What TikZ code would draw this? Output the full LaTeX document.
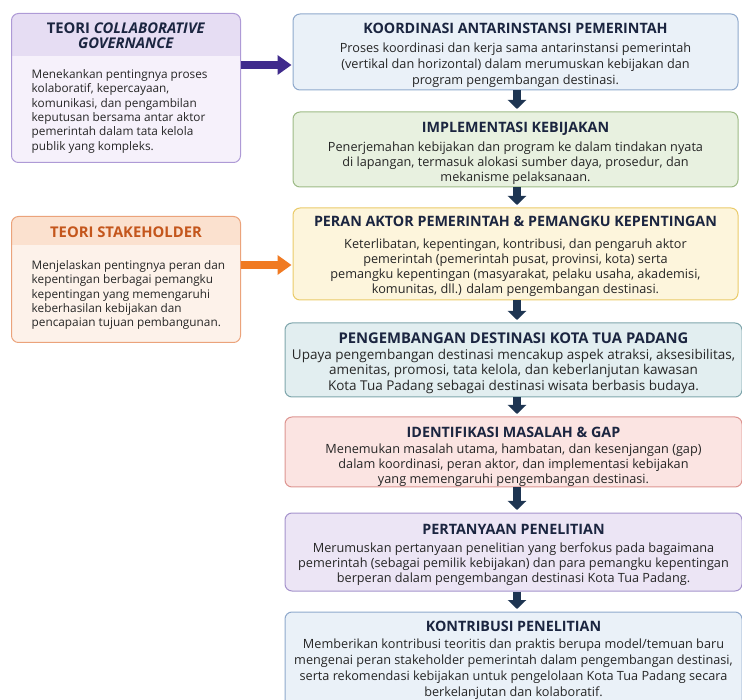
\documentclass[tikz,border=0pt]{standalone}
\usepackage{fontspec}
\setmainfont{Open Sans}
\usepackage{xcolor}
\usepackage{tikz}
\usetikzlibrary{positioning}
\usetikzlibrary{arrows.meta}
\usetikzlibrary{calc}

\definecolor{navy}{HTML}{1E3552}
\definecolor{ttlnavy}{HTML}{1B2540}
\definecolor{txtdark}{HTML}{262626}
\definecolor{apurple}{HTML}{3F2A8C}
\definecolor{aorange}{HTML}{F07A22}
\definecolor{kblue}{HTML}{EAF1F8}   \definecolor{kblueline}{HTML}{8FA9CC}
\definecolor{kgreen}{HTML}{E8F1E0}  \definecolor{kgreenline}{HTML}{9DBB86}
\definecolor{kyellow}{HTML}{FDF5DC} \definecolor{kyellowline}{HTML}{EACB6A}
\definecolor{kteal}{HTML}{E2EEF0}   \definecolor{ktealline}{HTML}{7FA6AC}
\definecolor{kred}{HTML}{FBE4E2}    \definecolor{kredline}{HTML}{DD9591}
\definecolor{kpurple}{HTML}{ECE5F5} \definecolor{kpurpleline}{HTML}{A593CC}
\definecolor{tpurple}{HTML}{F6F1FB} \definecolor{tpurplehead}{HTML}{E6DDF3} \definecolor{tpurpleline}{HTML}{AE9AD6}
\definecolor{torange}{HTML}{FDF2EA} \definecolor{toranghead}{HTML}{FBE1CF} \definecolor{torangeline}{HTML}{EBA37B}
\definecolor{torangetitle}{HTML}{C4561C}

\tikzset{
  stepbox/.style={draw=#1line, fill=#1, rounded corners=7pt, line width=1pt,
    minimum width=445pt, inner sep=0pt},
  ktitle/.style={font=\bfseries\fontsize{14.3}{17}\selectfont, text=ttlnavy, inner sep=0pt},
  kbody/.style={align=center, font=\fontsize{12.7}{16}\selectfont, text=txtdark, inner sep=0pt},
  tbody/.style={align=left, font=\fontsize{11.8}{14.3}\selectfont, text=txtdark, inner sep=0pt, anchor=north west},
  downarrow/.style={navy, line width=8pt, -{Triangle[width=18pt,length=9pt]}, shorten >=2.5pt},
  sidearrow/.style={#1, line width=8pt, -{Triangle[width=19pt,length=14pt]}, shorten >=1pt}
}

\begin{document}
\begin{tikzpicture}[x=1pt, y=-1pt]
 \useasboundingbox (0,0) rectangle (742,700);

 % main column
 \foreach \i/\col/\xc/\w/\yc/\h in {1/kblue/515.5/445/52/76, 2/kgreen/515.5/445/149.5/75,
     3/kyellow/515.5/445/254/92, 4/kteal/513.5/457/360/74, 5/kred/513.5/457/452/70,
     6/kpurple/513.5/457/552/78, 7/kblue/513.5/457/662/100} {
   \node[stepbox=\col, minimum width=\w pt, minimum height=\h pt] (K\i) at (\xc,\yc) {};
 }
 \coordinate (axis) at (517,0);

 \foreach \i/\j in {1/2, 2/3, 3/4, 4/5, 5/6, 6/7} {
   \draw[downarrow] (axis |- K\i.south) -- (axis |- K\j.north);
 }

 \node[ktitle, below=9pt of K1.north] (K1t) {KOORDINASI ANTARINSTANSI PEMERINTAH};
 \node[kbody, below=9pt of K1t] (K1b) {Proses koordinasi dan kerja sama antarinstansi pemerintah\\
   (vertikal dan horizontal) dalam merumuskan kebijakan dan\\
   program pengembangan destinasi.};

 \node[ktitle, below=10pt of K2.north] (K2t) {IMPLEMENTASI KEBIJAKAN};
 \node[kbody, below=6pt of K2t, font=\fontsize{12.7}{15.3}\selectfont] (K2b) {Penerjemahan kebijakan dan program ke dalam tindakan nyata\\
   di lapangan, termasuk alokasi sumber daya, prosedur, dan\\
   mekanisme pelaksanaan.};

 \node[ktitle, below=8pt of K3.north] (K3t) {PERAN AKTOR PEMERINTAH \& PEMANGKU KEPENTINGAN};
 \node[kbody, below=12pt of K3t, font=\fontsize{12.7}{15}\selectfont] (K3b) {Keterlibatan, kepentingan, kontribusi, dan pengaruh aktor\\
   pemerintah (pemerintah pusat, provinsi, kota) serta\\
   pemangku kepentingan (masyarakat, pelaku usaha, akademisi,\\
   komunitas, dll.) dalam pengembangan destinasi.};

 \node[ktitle, below=10pt of K4.north, font=\bfseries\fontsize{14.8}{17}\selectfont] (K4t) {PENGEMBANGAN DESTINASI KOTA TUA PADANG};
 \node[kbody, below=5pt of K4t, font=\fontsize{13.5}{15.5}\selectfont] (K4b) {Upaya pengembangan destinasi mencakup aspek atraksi, aksesibilitas,\\
   amenitas, promosi, tata kelola, dan keberlanjutan kawasan\\
   Kota Tua Padang sebagai destinasi wisata berbasis budaya.};

 \node[ktitle, below=10pt of K5.north] (K5t) {IDENTIFIKASI MASALAH \& GAP};
 \node[kbody, below=6pt of K5t, font=\fontsize{12.7}{15.3}\selectfont] (K5b) {Menemukan masalah utama, hambatan, dan kesenjangan (gap)\\
   dalam koordinasi, peran aktor, dan implementasi kebijakan\\
   yang memengaruhi pengembangan destinasi.};

 \node[ktitle, below=12pt of K6.north] (K6t) {PERTANYAAN PENELITIAN};
 \node[kbody, below=7pt of K6t, font=\fontsize{12.7}{15}\selectfont] (K6b) {Merumuskan pertanyaan penelitian yang berfokus pada bagaimana\\
   pemerintah (sebagai pemilik kebijakan) dan para pemangku kepentingan\\
   berperan dalam pengembangan destinasi Kota Tua Padang.};

 \node[ktitle, below=9pt of K7.north] (K7t) {KONTRIBUSI PENELITIAN};
 \node[kbody, below=7pt of K7t] (K7b) {Memberikan kontribusi teoritis dan praktis berupa model/temuan baru\\
   mengenai peran stakeholder pemerintah dalam pengembangan destinasi,\\
   serta rekomendasi kebijakan untuk pengelolaan Kota Tua Padang secara\\
   berkelanjutan dan kolaboratif.};

 % theory boxes
 \node[stepbox=tpurple, draw=none, minimum width=228pt, minimum height=148pt] (T1) at (126,88) {};
 \node[stepbox=torange, draw=none, minimum width=228pt, minimum height=125pt] (T2) at (126,279.5) {};

 \begin{scope}
   \clip[rounded corners=7pt] (T1.south west) rectangle (T1.north east);
   \fill[tpurplehead] (T1.north west) rectangle ([yshift=-43pt]T1.north east);
 \end{scope}
 \begin{scope}
   \clip[rounded corners=7pt] (T2.south west) rectangle (T2.north east);
   \fill[toranghead] (T2.north west) rectangle ([yshift=-29pt]T2.north east);
 \end{scope}
 \draw[tpurpleline, line width=1pt, rounded corners=7pt] (T1.south west) rectangle (T1.north east);
 \draw[torangeline, line width=1pt, rounded corners=7pt] (T2.south west) rectangle (T2.north east);

 \node[ktitle, align=center, font=\bfseries\fontsize{14.8}{15}\selectfont] (T1t) at ([yshift=-22.5pt]T1.north)
   {TEORI \textit{COLLABORATIVE}\\\textit{GOVERNANCE}};
 \node[tbody] (T1b) at ([xshift=20pt, yshift=-56pt]T1.north west)
   {Menekankan pentingnya proses\\
    kolaboratif, kepercayaan,\\
    komunikasi, dan pengambilan\\
    keputusan bersama antar aktor\\
    pemerintah dalam tata kelola\\
    publik yang kompleks.};

 \node[ktitle, text=torangetitle, font=\bfseries\fontsize{14.8}{16}\selectfont] (T2t) at ([yshift=-16pt]T2.north) {TEORI STAKEHOLDER};
 \node[tbody] (T2b) at ([xshift=20pt, yshift=-44pt]T2.north west)
   {Menjelaskan pentingnya peran dan\\
    kepentingan berbagai pemangku\\
    kepentingan yang memengaruhi\\
    keberhasilan kebijakan dan\\
    pencapaian tujuan pembangunan.};

 % side arrows
 \coordinate (p1) at ([yshift=-13pt]K1.west);
 \coordinate (p2) at ([yshift=-11pt]K3.west);
 \draw[sidearrow=apurple] (T1.east |- p1) -- (p1);
 \draw[sidearrow=aorange] (T2.east |- p2) -- (p2);
\end{tikzpicture}
\end{document}
